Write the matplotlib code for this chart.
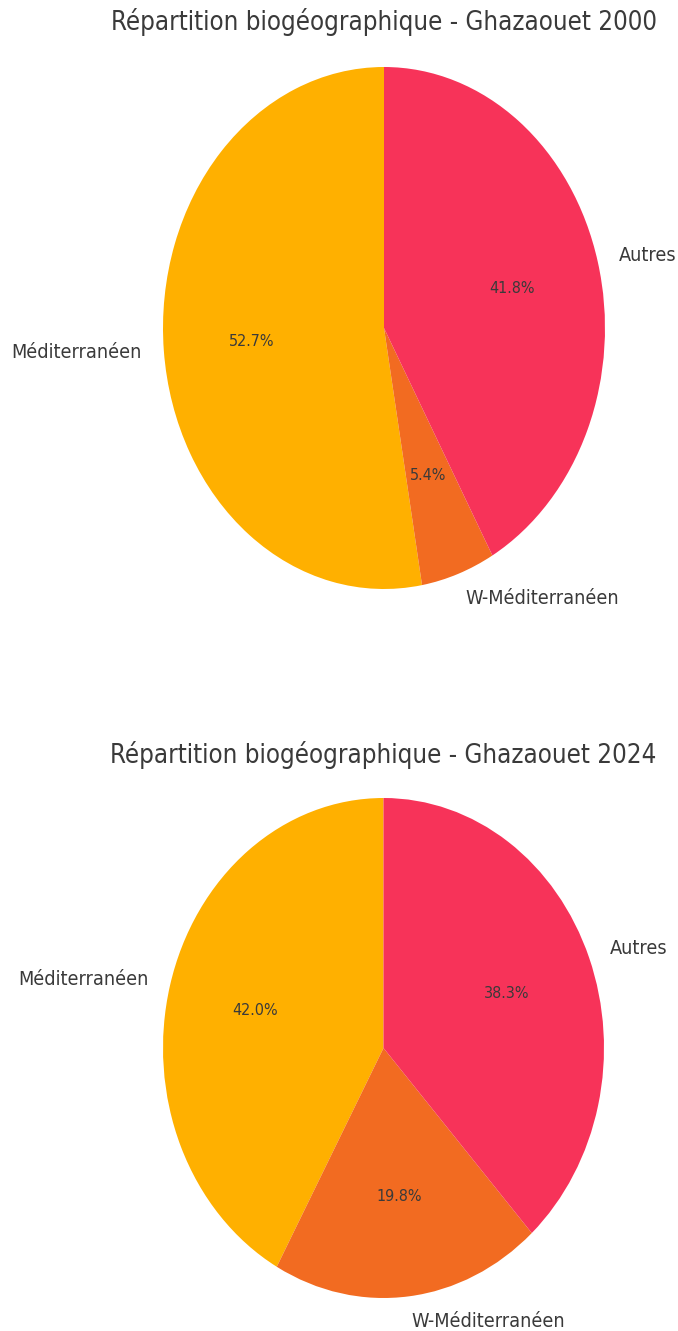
import matplotlib
matplotlib.use("Agg")
import matplotlib.pyplot as plt

labels = ["Méditerranéen", "W-Méditerranéen", "Autres"]
values_2000 = [52.7, 5.4, 41.8]
values_2024 = [42.0, 19.8, 38.3]
titles = ["Répartition biogéographique - Ghazaouet 2000",
          "Répartition biogéographique - Ghazaouet 2024"]
colors = ["#FFB000", "#F26B21", "#F73359"]

W, H = 678, 1331
fig = plt.figure(figsize=(W / 100, H / 100), dpi=100)

stretch = "condensed"
txt_color = "#3a3a3a"

# pie bounding boxes in pixels: (left, top, right, bottom)
boxes = [(163, 67, 605, 589), (163, 798, 604, 1298)]
title_y = [22, 755]

for vals, title, box, ty in zip([values_2000, values_2024], titles, boxes, title_y):
    l, t, r, b = box
    ax = fig.add_axes([l / W, 1 - b / H, (r - l) / W, (b - t) / H])
    it = iter(vals)
    wedges, texts, autotexts = ax.pie(
        vals, labels=labels, colors=colors, startangle=90,
        autopct=lambda p, it=it: f"{next(it):.1f}%",
        labeldistance=1.1, pctdistance=0.6,
        textprops=dict(color=txt_color, fontstretch=stretch),
        wedgeprops=dict(linewidth=0))
    for tx in texts:
        tx.set_fontsize(14.2)
        tx.set_clip_on(False)
    for at in autotexts:
        at.set_fontsize(11.5)
    ax.set_aspect("auto")
    ax.set_xlim(-1, 1)
    ax.set_ylim(-1, 1)
    ax.axis("off")
    fig.text((l + r) / 2 / W, 1 - ty / H, title, ha="center", va="center",
             fontsize=18.5, color=txt_color, fontstretch=stretch)

fig.savefig("out.png", dpi=100)
